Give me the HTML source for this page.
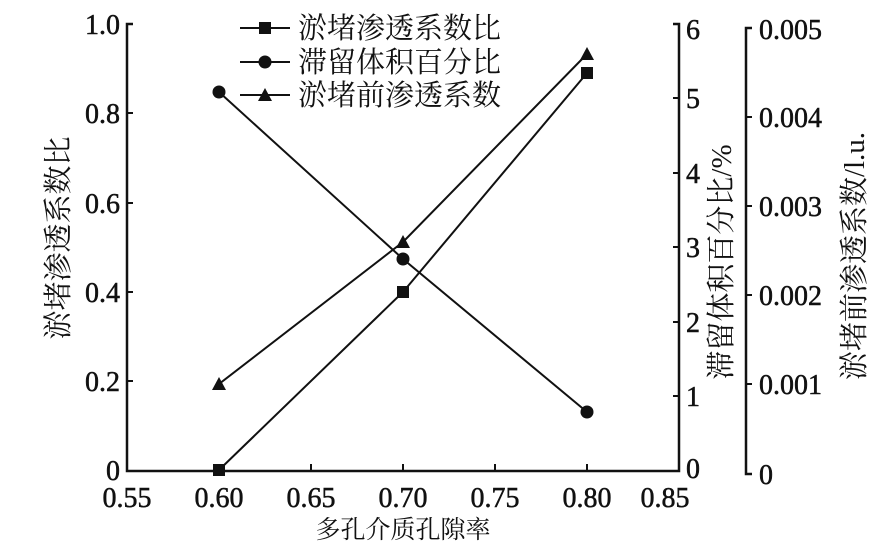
<!DOCTYPE html>
<html><head><meta charset="utf-8"><style>
html,body{margin:0;padding:0;background:#fff;}
svg text{font-family:"Liberation Serif","Noto Serif CJK SC",serif;fill:#111;}
.n{font-size:28px;stroke:#111;stroke-width:0.5;}
</style></head><body>
<svg width="890" height="552" viewBox="0 0 890 552" xmlns="http://www.w3.org/2000/svg">
<g stroke="#111" stroke-width="2.5" fill="none">
<polyline points="133,24 127,24 127,471 679,471 679,24 673,24"/>
<polyline points="752,28 746,28 746,474 752,474"/>
</g>
<g stroke="#111" stroke-width="2">
<line x1="127" y1="113" x2="133" y2="113"/><line x1="127" y1="203" x2="133" y2="203"/>
<line x1="127" y1="292" x2="133" y2="292"/><line x1="127" y1="381" x2="133" y2="381"/>
<line x1="219" y1="471" x2="219" y2="464"/><line x1="311" y1="471" x2="311" y2="464"/>
<line x1="403" y1="471" x2="403" y2="464"/><line x1="495" y1="471" x2="495" y2="464"/>
<line x1="587" y1="471" x2="587" y2="464"/>
<line x1="673" y1="98" x2="679" y2="98"/><line x1="673" y1="173" x2="679" y2="173"/>
<line x1="673" y1="247" x2="679" y2="247"/><line x1="673" y1="322" x2="679" y2="322"/>
<line x1="673" y1="396" x2="679" y2="396"/>
<line x1="746" y1="117" x2="752" y2="117"/><line x1="746" y1="206" x2="752" y2="206"/>
<line x1="746" y1="295" x2="752" y2="295"/><line x1="746" y1="384" x2="752" y2="384"/>
</g>
<g class="n">
<g text-anchor="end">
<text x="120" y="34">1.0</text><text x="120" y="123">0.8</text><text x="120" y="213">0.6</text>
<text x="120" y="302">0.4</text><text x="120" y="391">0.2</text><text x="120" y="480">0</text>
</g>
<g text-anchor="middle">
<text x="127" y="507">0.55</text><text x="219" y="507">0.60</text><text x="311" y="507">0.65</text>
<text x="403" y="507">0.70</text><text x="495" y="507">0.75</text><text x="587" y="507">0.80</text>
<text x="665" y="507">0.85</text>
</g>
<g>
<text x="686" y="39">6</text><text x="686" y="108">5</text><text x="686" y="183">4</text>
<text x="686" y="257">3</text><text x="686" y="332">2</text><text x="686" y="406">1</text><text x="686" y="478">0</text>
</g>
<g>
<text x="759" y="39">0.005</text><text x="759" y="127">0.004</text><text x="759" y="216">0.003</text>
<text x="759" y="305">0.002</text><text x="759" y="394">0.001</text><text x="759" y="484">0</text>
</g>
</g>
<g font-size="25">
<text x="403" y="538" text-anchor="middle">多孔介质孔隙率</text>
</g>
<g font-size="29">
<text transform="translate(68,238) rotate(-90)" text-anchor="middle">淤堵渗透系数比</text>
<text transform="translate(731,262) rotate(-90)" text-anchor="middle">滞留体积百分比/%</text>
<text transform="translate(864,256) rotate(-90)" text-anchor="middle">淤堵前渗透系数/l.u.</text>
<text x="298" y="38">淤堵渗透系数比</text>
<text x="298" y="72">滞留体积百分比</text>
<text x="298" y="105">淤堵前渗透系数</text>
</g>
<g stroke="#111" stroke-width="2" fill="none">
<line x1="240" y1="28" x2="290" y2="28"/><line x1="240" y1="62" x2="290" y2="62"/><line x1="240" y1="95" x2="290" y2="95"/>
<polyline points="219,470 403,292 587,73"/>
<polyline points="219,92 403,259 587,412"/>
<polyline points="219,384 403,242 587,54"/>
</g>
<g fill="#111">
<rect x="259" y="22" width="12" height="12"/>
<circle cx="265" cy="62" r="6.5"/>
<polygon points="265,88 272,101 258,101"/>
<rect x="213" y="464" width="12" height="12"/><rect x="397" y="286" width="12" height="12"/><rect x="581" y="67" width="12" height="12"/>
<circle cx="219" cy="92" r="6.5"/><circle cx="403" cy="259" r="6.5"/><circle cx="587" cy="412" r="6.5"/>
<polygon points="219,377 226,390 212,390"/><polygon points="403,235 410,248 396,248"/><polygon points="587,47 594,60 580,60"/>
</g>
</svg>
</body></html>
